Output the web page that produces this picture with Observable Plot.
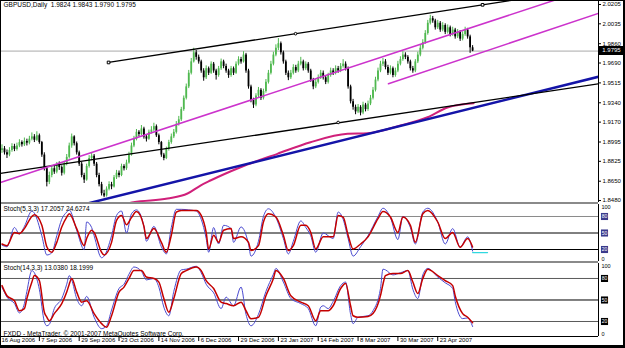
<!DOCTYPE html>
<html><head><meta charset="utf-8">
<script src="https://cdn.jsdelivr.net/npm/d3@7"></script>
<script src="https://cdn.jsdelivr.net/npm/@observablehq/plot@0.6"></script>
<style>
body{margin:0;background:#fff;}
#wrap{position:relative;width:625px;height:348px;overflow:hidden;background:#fff;font-family:"Liberation Sans",Arial,sans-serif;}
.pn{position:absolute;left:0;}
.sep{position:absolute;left:0;width:598px;height:2px;background:#8a8a8a;}
#frame{position:absolute;left:0;top:0;width:625px;height:348px;box-sizing:border-box;border-left:1px solid #000;border-top:1px solid #000;border-right:2px solid #000;border-bottom:3px solid #000;pointer-events:none;}
#bidbox{position:absolute;left:599px;top:46px;width:25px;height:9px;background:#000;color:#fff;font-size:6px;line-height:9px;text-align:center;}
</style></head><body><div id="wrap"></div><script>
// ---- price data (daily bars, index 1..190) ----
const symbolTitle = "GBPUSD,Daily  1.9824 1.9843 1.9790 1.9795";
const firstOpen = 1.8920;
const closes = [
1.8935,1.8900,1.8880,1.8920,1.8955,1.8930,1.8960,1.8990,1.8970,1.9000,
1.8985,1.9020,1.9040,1.9010,1.9050,1.8990,1.8880,1.8760,1.8640,1.8700,
1.8760,1.8730,1.8790,1.8770,1.8720,1.8800,1.8860,1.8960,1.9040,1.8980,
1.8900,1.8800,1.8700,1.8660,1.8780,1.8850,1.8870,1.8800,1.8700,1.8620,
1.8540,1.8520,1.8580,1.8620,1.8600,1.8680,1.8720,1.8700,1.8780,1.8760,
1.8810,1.8880,1.8960,1.9020,1.9080,1.9060,1.9110,1.9040,1.9020,1.9080,
1.9100,1.9130,1.9050,1.8990,1.8880,1.8850,1.8930,1.8990,1.9040,1.9080,
1.9150,1.9190,1.9280,1.9380,1.9480,1.9600,1.9700,1.9780,1.9740,1.9700,
1.9620,1.9560,1.9640,1.9600,1.9680,1.9620,1.9580,1.9640,1.9700,1.9660,
1.9620,1.9580,1.9640,1.9600,1.9680,1.9720,1.9700,1.9760,1.9620,1.9480,
1.9360,1.9320,1.9400,1.9450,1.9380,1.9440,1.9520,1.9600,1.9680,1.9760,
1.9820,1.9860,1.9780,1.9700,1.9600,1.9560,1.9600,1.9650,1.9620,1.9680,
1.9700,1.9640,1.9680,1.9620,1.9540,1.9480,1.9520,1.9560,1.9600,1.9560,
1.9520,1.9580,1.9620,1.9600,1.9640,1.9620,1.9660,1.9680,1.9640,1.9480,
1.9350,1.9300,1.9260,1.9300,1.9250,1.9320,1.9280,1.9330,1.9380,1.9450,
1.9540,1.9620,1.9680,1.9700,1.9650,1.9600,1.9640,1.9580,1.9620,1.9680,
1.9720,1.9760,1.9740,1.9700,1.9640,1.9620,1.9700,1.9760,1.9820,1.9870,
1.9950,2.0040,2.0080,2.0060,2.0000,2.0040,1.9980,2.0020,1.9960,2.0000,
1.9940,1.9980,1.9920,1.9960,1.9900,1.9940,1.9980,1.9920,1.9824,1.9795];
const highs = [
1.8970,1.8955,1.8925,1.8945,1.8980,1.8975,1.8985,1.9015,1.9005,1.9030,
1.9020,1.9045,1.9075,1.9060,1.9085,1.9065,1.9000,1.8900,1.8780,1.8730,
1.8790,1.8785,1.8815,1.8820,1.8785,1.8825,1.8885,1.8985,1.9065,1.9050,
1.8995,1.8915,1.8815,1.8720,1.8800,1.8875,1.8900,1.8885,1.8815,1.8720,
1.8640,1.8570,1.8600,1.8645,1.8640,1.8700,1.8745,1.8740,1.8800,1.8795,
1.8835,1.8905,1.8985,1.9045,1.9105,1.9095,1.9140,1.9125,1.9060,1.9100,
1.9130,1.9160,1.9145,1.9065,1.9000,1.8895,1.8950,1.9010,1.9065,1.9105,
1.9175,1.9220,1.9300,1.9400,1.9505,1.9625,1.9730,1.9820,1.9800,1.9760,
1.9715,1.9640,1.9665,1.9655,1.9700,1.9695,1.9635,1.9660,1.9725,1.9715,
1.9680,1.9635,1.9660,1.9655,1.9700,1.9745,1.9740,1.9790,1.9775,1.9635,
1.9495,1.9380,1.9420,1.9475,1.9465,1.9460,1.9545,1.9625,1.9705,1.9785,
1.9850,1.9905,1.9875,1.9795,1.9715,1.9620,1.9625,1.9675,1.9670,1.9705,
1.9740,1.9715,1.9700,1.9695,1.9635,1.9555,1.9545,1.9585,1.9625,1.9620,
1.9575,1.9600,1.9645,1.9640,1.9665,1.9660,1.9685,1.9720,1.9700,1.9655,
1.9495,1.9370,1.9320,1.9325,1.9315,1.9345,1.9335,1.9355,1.9405,1.9475,
1.9565,1.9645,1.9705,1.9730,1.9720,1.9670,1.9665,1.9655,1.9645,1.9705,
1.9745,1.9790,1.9780,1.9755,1.9715,1.9660,1.9720,1.9785,1.9845,1.9895,
1.9975,2.0065,2.0110,2.0100,2.0075,2.0065,2.0055,2.0045,2.0035,2.0025,
2.0015,2.0005,1.9995,1.9985,1.9975,1.9965,2.0005,1.9995,1.9935,1.9843];
const lows = [
1.8895,1.8880,1.8850,1.8865,1.8905,1.8910,1.8915,1.8945,1.8950,1.8955,
1.8960,1.8970,1.9005,1.8990,1.9000,1.8975,1.8860,1.8740,1.8600,1.8620,
1.8680,1.8710,1.8715,1.8745,1.8695,1.8705,1.8785,1.8845,1.8940,1.8960,
1.8880,1.8780,1.8680,1.8630,1.8650,1.8765,1.8830,1.8780,1.8680,1.8600,
1.8520,1.8505,1.8510,1.8565,1.8575,1.8590,1.8665,1.8680,1.8690,1.8740,
1.8745,1.8800,1.8870,1.8945,1.9005,1.9040,1.9050,1.9020,1.8995,1.9010,
1.9065,1.9085,1.9035,1.8970,1.8860,1.8830,1.8840,1.8915,1.8975,1.9025,
1.9065,1.9135,1.9175,1.9265,1.9365,1.9465,1.9585,1.9690,1.9715,1.9680,
1.9600,1.9530,1.9545,1.9580,1.9590,1.9600,1.9540,1.9565,1.9625,1.9640,
1.9600,1.9555,1.9565,1.9580,1.9590,1.9665,1.9680,1.9690,1.9600,1.9460,
1.9340,1.9290,1.9305,1.9385,1.9360,1.9365,1.9425,1.9505,1.9585,1.9665,
1.9745,1.9800,1.9760,1.9680,1.9580,1.9535,1.9545,1.9585,1.9600,1.9605,
1.9665,1.9620,1.9625,1.9600,1.9520,1.9455,1.9465,1.9505,1.9545,1.9540,
1.9500,1.9505,1.9565,1.9580,1.9585,1.9600,1.9605,1.9645,1.9620,1.9460,
1.9330,1.9275,1.9235,1.9245,1.9225,1.9235,1.9260,1.9265,1.9315,1.9365,
1.9435,1.9525,1.9605,1.9660,1.9630,1.9580,1.9585,1.9560,1.9565,1.9605,
1.9665,1.9705,1.9720,1.9680,1.9620,1.9600,1.9605,1.9685,1.9745,1.9805,
1.9855,1.9935,2.0025,2.0040,1.9980,1.9985,1.9960,1.9965,1.9940,1.9945,
1.9920,1.9925,1.9900,1.9905,1.9880,1.9885,1.9925,1.9900,1.9775,1.9790];
const bidPrice = 1.9795;
const priceTicks = [2.0205,2.0035,1.9860,1.9690,1.9515,1.9340,1.9170,1.8995,1.8825,1.8650,1.8480];

// moving average curve
const maIdx = [51.4,53.8,67.5,75.5,80.7,84.7,96.8,111.6,124.9,139.8,147.8,161.0,171.9,179.9,190.4];
const maVal = [1.8454,1.8465,1.8498,1.8542,1.8612,1.8656,1.8773,1.8891,1.8993,1.9067,1.9072,1.9140,1.9213,1.9299,1.9336];

// drawn trend lines: [startIdx, startPrice, endIdx, endPrice]
const upperBlack = [43.8,1.9695,240.56,2.0359];
const upperBlackMarks = [[43.8,1.9695],[194.0,2.0202]];
const upperBlackDot = [118.9,1.9948];
const lowerBlack = [0.4,1.8718,240.56,1.9507];
const lowerBlackDot = [136.0,1.9167];
const upperMagenta = [0.4,1.8639,240.56,2.0370];
const lowerMagenta = [156.2,1.9507,240.56,2.0128];
const blueLine = [0.4,1.8264,240.56,1.9569];

// Stoch(5,3,3)
const st1Title = "Stoch(5,3,3) 17.2057 24.6274";
const st1Idx = [1,3,6,8,10,13,14,17,19,21,23,25,27,28,31,34,35,37,38,41,42,45,47,49,51,53,55,58,59,62,65,67,69,71,73,76,79,81,83,84,86,88,90,93,94,97,100,101,104,106,108,111,114,116,118,121,123,125,127,130,134,136,138,140,142,145,148,152,154,157,160,162,165,167,170,172,176,179,182,185,188,190];
const st1K = [28,25,60,48,62,90,86,45,10,14,45,75,88,92,55,20,70,60,45,5,8,45,82,90,50,85,92,62,35,62,25,12,60,93,93,92,90,75,40,15,60,30,64,58,33,61,30,8,35,80,94,78,40,12,35,72,60,45,15,50,40,88,75,40,8,25,45,80,95,78,38,80,60,30,88,95,70,30,58,24,43,17.2];
const st1D = [30,27,51,49,58,80,83,64,25,15,33,61,79,85,58,27,40,55,51,15,10,33,73,82,65,78,89,62,40,58,33,15,46,88,91,91,91,82,51,21,46,33,55,58,40,43,33,18,27,70,85,79,46,18,27,64,64,51,21,43,43,82,79,46,21,30,43,76,89,79,51,79,64,33,85,91,70,40,51,24,40,24.6];
const st1Cyan = [[190,14.5],[196,14.5]];

// Stoch(14,3,3)
const st2Title = "Stoch(14,3,3) 13.0380 18.1999";
const st2Idx = [1,3,6,8,10,11,13,14,16,18,19,20,22,25,27,28,29,31,33,35,38,41,43,45,48,50,52,54,57,59,62,64,66,68,70,73,75,79,81,83,86,89,91,94,97,99,101,104,107,110,111,114,117,121,124,127,129,130,132,134,137,139,141,142,144,148,150,153,154,155,158,161,164,166,168,170,172,176,179,182,183,186,188,190];
const st2K = [68,54,45,32,45,62,91,88,65,20,14,16,38,52,72,84,78,52,42,55,26,10,14,36,66,72,86,96,90,78,80,68,40,28,62,92,93,97,88,72,60,38,54,42,68,30,14,30,62,86,94,75,52,45,38,14,40,42,38,48,70,75,30,17,26,28,35,66,93,92,85,88,91,65,52,85,94,82,74,66,48,24,25,13];
const st2D = [70,56,49,35,38,52,75,84,77,33,26,21,31,45,61,72,80,61,47,49,31,17,12,28,61,68,80,91,91,82,80,75,52,33,52,87,91,96,91,77,66,47,45,42,47,35,24,26,56,80,91,80,56,47,42,21,35,35,35,42,66,73,42,28,26,27,31,56,72,84,87,87,91,75,59,80,93,84,77,70,56,31,26,18.2];
const levels = [80,50,20];
const copyright = "FXDD - MetaTrader, \u00a9 2001-2007 MetaQuotes Software Corp.";

// date axis
const dateIdx = [0,16,32,48,64,80,96,112,128,144,160,176];
const dateLabels = ["16 Aug 2006","7 Sep 2006","29 Sep 2006","23 Oct 2006","14 Nov 2006","6 Dec 2006","29 Dec 2006","23 Jan 2007","14 Feb 2007","8 Mar 2007","30 Mar 2007","23 Apr 2007"];

// ---- build ----
const xMax = 240.56;
const X = {domain:[0.4, xMax], axis:null};
const font = "Liberation Sans, Arial, sans-serif";
const upC = "#4fb84f", dnC = "#000";
const bars = closes.map((c,k)=>({i:k+1, open: k ? closes[k-1] : firstOpen, close:c, high:highs[k], low:lows[k]}));
bars[189].open = 1.9824;
const ups = bars.filter(d=>d.close>=d.open), dns = bars.filter(d=>d.close<d.open);
const seg = a => [{x:a[0],y:a[1]},{x:a[2],y:a[3]}];
const baseStyle = {fontFamily:font, fontSize:"6px", background:"transparent", overflow:"visible"};

const wrap = document.getElementById("wrap");
function place(el, top){ el.classList.add("pn"); el.style.top = top+"px"; wrap.appendChild(el); }

const main = Plot.plot({
  width:625, height:202, marginLeft:0, marginRight:27, marginTop:0, marginBottom:0,
  x:X, y:{domain:[1.84626,2.02402], axis:null}, style:baseStyle,
  marks:[
    Plot.ruleY([bidPrice], {stroke:"#a9a9a9", strokeWidth:1}),
    Plot.ruleX(ups, {x:"i", y1:"low", y2:"high", stroke:upC, strokeWidth:1}),
    Plot.ruleX(dns, {x:"i", y1:"low", y2:"high", stroke:dnC, strokeWidth:1}),
    Plot.ruleX(ups, {x:"i", y1:"open", y2:"close", stroke:upC, strokeWidth:1.8}),
    Plot.ruleX(dns, {x:"i", y1:"open", y2:"close", stroke:dnC, strokeWidth:1.8}),
    Plot.line(maIdx.map((v,k)=>({x:v,y:maVal[k]})), {x:"x", y:"y", stroke:"#d0207a", strokeWidth:2, curve:"monotone-x", clip:true}),
    Plot.line(seg(blueLine), {x:"x", y:"y", stroke:"#1414a8", strokeWidth:2.5, clip:true}),
    Plot.line(seg(lowerBlack), {x:"x", y:"y", stroke:"#000", strokeWidth:1.3, clip:true}),
    Plot.line(seg(upperBlack), {x:"x", y:"y", stroke:"#000", strokeWidth:1.3, clip:true}),
    Plot.line(seg(upperMagenta), {x:"x", y:"y", stroke:"#cc33cc", strokeWidth:1.5, clip:true}),
    Plot.line(seg(lowerMagenta), {x:"x", y:"y", stroke:"#cc33cc", strokeWidth:1.5, clip:true}),
    Plot.dot(upperBlackMarks, {x:d=>d[0], y:d=>d[1], symbol:"square", r:1.5, stroke:"#000", fill:"#fff", strokeWidth:1}),
    Plot.dot([upperBlackDot, lowerBlackDot], {x:d=>d[0], y:d=>d[1], r:1.3, stroke:"#000", fill:"#fff", strokeWidth:1}),
    Plot.axisY({anchor:"right", ticks:priceTicks, tickFormat:d=>d.toFixed(4), tickSize:2, tickPadding:2, fontSize:6}),
    Plot.ruleX([xMax], {stroke:"#000"}),
    Plot.text([symbolTitle], {frameAnchor:"top-left", dx:3, dy:2, lineAnchor:"top", fontSize:6.5, fill:"#000"})
  ]
});
place(main, 0);

function stochPanel(opts){
  const {idx,K,D,title,height,domain,mb,extra,lvColors,boxFill,cyan} = opts;
  const pts = idx.map((v,k)=>({x:v,k:K[k],d:D[k]}));
  const marks = [
    Plot.ruleY(levels, {y:d=>d, stroke:(d,k)=>lvColors[k], strokeWidth:1}),
    Plot.line(pts, {x:"x", y:"k", stroke:"#4a4ad0", strokeWidth:1, curve:"monotone-x", clip:true}),
    Plot.line(pts, {x:"x", y:"d", stroke:"#c40000", strokeWidth:1.5, curve:"monotone-x", clip:true}),
    Plot.ruleX([xMax], {stroke:"#000"}),
    Plot.dot(levels, {x:()=>xMax, y:d=>d, dx:6, symbol:"square", r:4, fill:boxFill}),
    Plot.text(levels, {x:()=>xMax, y:d=>d, dx:6, text:d=>String(d), fill:"#fff", fontSize:5}),
    Plot.text(["100"], {frameAnchor:"top-right", dx:3, dy:1, textAnchor:"start", lineAnchor:"top", fontSize:5.5}),
    Plot.text(["0"], {frameAnchor:"bottom-right", dx:3, dy:-1, textAnchor:"start", lineAnchor:"bottom", fontSize:5.5}),
    Plot.text([title], {frameAnchor:"top-left", dx:3, dy:2, lineAnchor:"top", fontSize:6.5, fill:"#000"})
  ];
  if (cyan) marks.push(Plot.line(cyan, {x:d=>d[0], y:d=>d[1], stroke:"#30d8e0", strokeWidth:1.2}));
  return Plot.plot({
    width:625, height, marginLeft:0, marginRight:27, marginTop:0, marginBottom:mb,
    x:X, y:{domain, axis:null}, style:baseStyle,
    marks: marks.concat(extra||[])
  });
}

const st1 = stochPanel({idx:st1Idx, K:st1K, D:st1D, title:st1Title, height:57, domain:[-1.8,101.8], mb:0,
  lvColors:["#8a8a8a","#000","#000"], boxFill:"#3a3a8c", cyan:st1Cyan});
place(st1, 204);

const st2 = stochPanel({idx:st2Idx, K:st2K, D:st2D, title:st2Title, height:85, domain:[-0.93,100.9], mb:12,
  lvColors:["#5a5a5a","#000","#5a5a5a"], boxFill:"#000",
  extra:[
    Plot.ruleY([-0.93], {stroke:"#000"}),
    Plot.text([copyright], {frameAnchor:"bottom-left", dx:3, dy:-3, lineAnchor:"middle", fontSize:6.5, fill:"#000"}),
    Plot.ruleX(dateIdx, {x:d=>d, y1:-0.93, y2:-8, stroke:"#000", strokeWidth:1}),
    Plot.text(dateIdx, {x:d=>d, frameAnchor:"bottom", dy:5, dx:2, textAnchor:"start", text:(d,k)=>dateLabels[k], fontSize:6, fill:"#000"})
  ]});
place(st2, 263);

for (const t of [202, 261]) { const s=document.createElement("div"); s.className="sep"; s.style.top=t+"px"; wrap.appendChild(s); }
const bb = document.createElement("div"); bb.id="bidbox"; bb.textContent = bidPrice.toFixed(4); wrap.appendChild(bb);
const fr = document.createElement("div"); fr.id="frame"; wrap.appendChild(fr);
</script></body></html>
